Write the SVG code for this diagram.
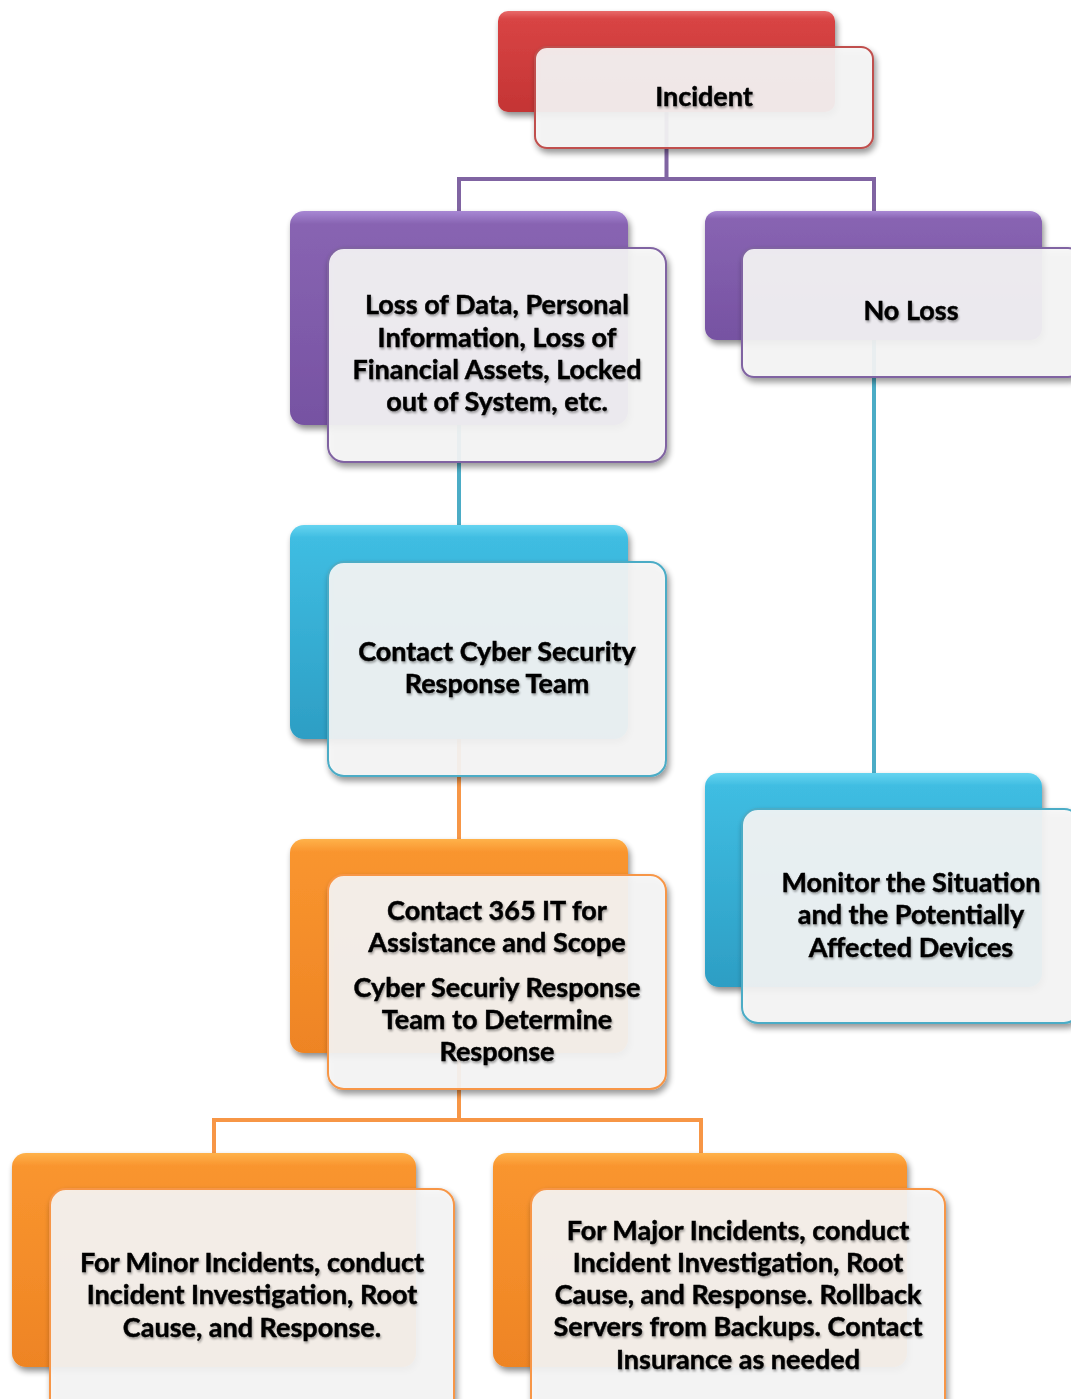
<svg xmlns="http://www.w3.org/2000/svg" width="1071" height="1399" viewBox="0 0 1071 1399">
<defs>
<linearGradient id="gRed" x1="0" y1="0" x2="0" y2="1">
<stop offset="0" stop-color="#e86a6a"/><stop offset="0.08" stop-color="#d84444"/><stop offset="1" stop-color="#c43434"/>
</linearGradient>
<linearGradient id="gPur" x1="0" y1="0" x2="0" y2="1">
<stop offset="0" stop-color="#a888d4"/><stop offset="0.06" stop-color="#8864b2"/><stop offset="1" stop-color="#7652a2"/>
</linearGradient>
<linearGradient id="gTeal" x1="0" y1="0" x2="0" y2="1">
<stop offset="0" stop-color="#66d4f0"/><stop offset="0.06" stop-color="#3fbde2"/><stop offset="1" stop-color="#2d9ec4"/>
</linearGradient>
<linearGradient id="gOr" x1="0" y1="0" x2="0" y2="1">
<stop offset="0" stop-color="#ffb24a"/><stop offset="0.06" stop-color="#f9952f"/><stop offset="1" stop-color="#ee8424"/>
</linearGradient>
<filter id="sh" x="-10%" y="-10%" width="125%" height="130%">
<feGaussianBlur in="SourceAlpha" stdDeviation="3"/>
<feOffset dx="2" dy="4" result="b"/>
<feComponentTransfer><feFuncA type="linear" slope="0.45"/></feComponentTransfer>
<feMerge><feMergeNode/><feMergeNode in="SourceGraphic"/></feMerge>
</filter>
<filter id="ts" x="-5%" y="-20%" width="110%" height="150%">
<feGaussianBlur in="SourceAlpha" stdDeviation="0.8"/>
<feOffset dx="1" dy="1.5"/>
<feComponentTransfer><feFuncA type="linear" slope="0.35"/></feComponentTransfer>
<feMerge><feMergeNode/><feMergeNode in="SourceGraphic"/></feMerge>
</filter>
</defs>
<style>
.back{filter:url(#sh)}
.front{fill:#f7f7f7;fill-opacity:0.9;stroke-width:2;filter:url(#sh)}
.red .front{stroke:#c0504d}
.pur .front{stroke:#8064a2}
.teal .front{stroke:#4bacc6}
.or .front{stroke:#f79646}
text{font-family:Lato,"Liberation Sans",sans-serif;font-weight:bold;font-size:27px;fill:#000;stroke:#000;stroke-width:0.45;text-anchor:middle;filter:url(#ts)}
.conn path{fill:none;stroke-width:4}
</style>
<g id="connectors" class="conn">
<path d="M666.5,112 V179 H459 V211 M666.5,179 H874 V211" stroke="#8064a2"/>
<path d="M459,425 V525" stroke="#4bacc6"/>
<path d="M874,340 V773" stroke="#4bacc6"/>
<path d="M459,739 V839" stroke="#f79646"/>
<path d="M459,1053 V1120 H214 V1153 M459,1120 H701 V1153" stroke="#f79646"/>
</g>
<g id="incident" class="red">
<rect class="back" x="498" y="11" width="337" height="101" rx="10" fill="url(#gRed)"/>
<rect class="front" x="535" y="47" width="338" height="101" rx="12"/>
<text x="704" y="106">Incident</text>
</g>
<g id="loss" class="pur">
<rect class="back" x="290" y="211" width="338" height="214" rx="14" fill="url(#gPur)"/>
<rect class="front" x="328" y="248" width="338" height="214" rx="16"/>
<text x="497" y="314">Loss of Data, Personal</text>
<text x="497" y="347">Information, Loss of</text>
<text x="497" y="379">Financial Assets, Locked</text>
<text x="497" y="411">out of System, etc.</text>
</g>
<g id="noloss" class="pur">
<rect class="back" x="705" y="211" width="337" height="129" rx="12" fill="url(#gPur)"/>
<rect class="front" x="742" y="248" width="338" height="129" rx="12"/>
<text x="911" y="320">No Loss</text>
</g>
<g id="contact-cyber" class="teal">
<rect class="back" x="290" y="525" width="338" height="214" rx="14" fill="url(#gTeal)"/>
<rect class="front" x="328" y="562" width="338" height="214" rx="16"/>
<text x="497" y="661">Contact Cyber Security</text>
<text x="497" y="693">Response Team</text>
</g>
<g id="monitor" class="teal">
<rect class="back" x="705" y="773" width="337" height="214" rx="14" fill="url(#gTeal)"/>
<rect class="front" x="742" y="809" width="338" height="214" rx="16"/>
<text x="911" y="892">Monitor the Situation</text>
<text x="911" y="924">and the Potentially</text>
<text x="911" y="957">Affected Devices</text>
</g>
<g id="contact-365" class="or">
<rect class="back" x="290" y="839" width="338" height="214" rx="14" fill="url(#gOr)"/>
<rect class="front" x="328" y="875" width="338" height="214" rx="16"/>
<text x="497" y="920">Contact 365 IT for</text>
<text x="497" y="952">Assistance and Scope</text>
<text x="497" y="997">Cyber Securiy Response</text>
<text x="497" y="1029">Team to Determine</text>
<text x="497" y="1061">Response</text>
</g>
<g id="minor" class="or">
<rect class="back" x="12" y="1153" width="404" height="214" rx="14" fill="url(#gOr)"/>
<rect class="front" x="50" y="1189" width="404" height="230" rx="16"/>
<text x="252" y="1272">For Minor Incidents, conduct</text>
<text x="252" y="1304">Incident Investigation, Root</text>
<text x="252" y="1337">Cause, and Response.</text>
</g>
<g id="major" class="or">
<rect class="back" x="493" y="1153" width="414" height="214" rx="14" fill="url(#gOr)"/>
<rect class="front" x="531" y="1189" width="414" height="230" rx="16"/>
<text x="738" y="1240">For Major Incidents, conduct</text>
<text x="738" y="1272">Incident Investigation, Root</text>
<text x="738" y="1304">Cause, and Response. Rollback</text>
<text x="738" y="1336">Servers from Backups. Contact</text>
<text x="738" y="1369">Insurance as needed</text>
</g>
</svg>
